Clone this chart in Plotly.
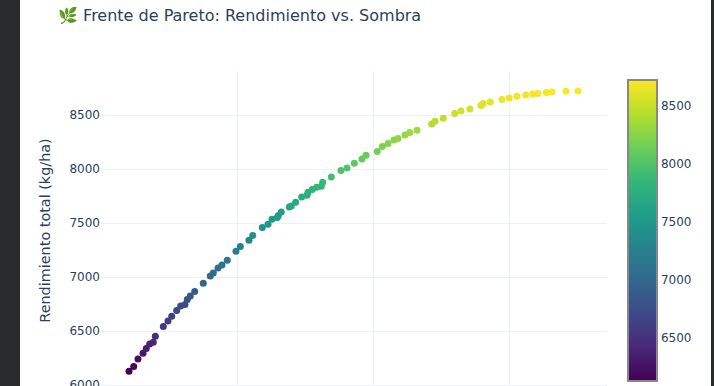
import plotly.graph_objects as go

sombra = [4.12, 4.81, 5.44, 6.18, 6.66, 7.16, 7.69, 7.99, 9.16, 9.85, 10.40, 11.13, 11.72, 12.35, 12.69, 13.13, 13.78,
          15.04, 16.07, 16.51, 17.21, 17.79, 18.57, 19.85, 20.49, 21.76, 22.31, 23.72, 24.56, 25.15, 25.93, 26.07,
          26.51, 27.69, 27.99, 28.63, 29.51, 30.29, 30.44, 31.07, 31.72, 32.40, 32.60, 33.87, 35.29, 36.18, 37.25,
          38.38, 38.97, 40.63, 41.37, 42.21, 43.09, 43.68, 44.71, 45.40, 46.47, 48.63, 49.12, 50.34, 52.01, 52.94,
          54.26, 55.88, 56.22, 57.25, 58.97, 60.04, 61.18, 62.46, 63.49, 64.26, 65.49, 66.32, 68.38, 70.15]
rendimiento = [6130, 6173, 6244, 6296, 6340, 6382, 6398, 6454, 6544, 6595, 6639, 6692, 6734, 6747, 6794, 6827, 6868,
               6945, 7012, 7040, 7086, 7114, 7158, 7241, 7284, 7343, 7386, 7460, 7491, 7537, 7553, 7571,
               7605, 7651, 7660, 7695, 7744, 7759, 7787, 7812, 7833, 7843, 7880, 7929, 7988, 8012, 8056,
               8096, 8130, 8164, 8210, 8238, 8272, 8284, 8318, 8340, 8361, 8420, 8445, 8472, 8516, 8540,
               8559, 8590, 8609, 8623, 8646, 8660, 8676, 8688, 8697, 8701, 8710, 8716, 8722, 8725]

FONT = "DejaVu Sans, Verdana, sans-serif"
W, H = 714, 390
L, R, T, B = 101, 107, 71, 0
PW = W - L - R
PH = H - T - B
DARK = "#292a2d"

fig = go.Figure(go.Scatter(
    x=sombra, y=rendimiento, mode="markers",
    marker=dict(
        size=7, color=rendimiento, colorscale="Viridis",
        colorbar=dict(
            thickness=29, lenmode="pixels", len=301, ypad=0, xpad=0,
            x=(628 - L) / PW, xanchor="left", y=(H - B - 381) / PH, yanchor="bottom",
            outlinecolor="#888888", outlinewidth=2, tickfont=dict(size=12),
            tick0=6500, dtick=500, ticks="",
        ),
    ),
))
fig.update_layout(
    template="plotly_white", width=W, height=H, showlegend=False,
    margin=dict(l=L, r=R, t=T, b=B, autoexpand=False),
    font=dict(family=FONT, color="#2a3f5f", size=12),
    title=dict(text="🌿 Frente de Pareto: Rendimiento vs. Sombra", x=58 / W, xanchor="left",
               y=1 - 15 / H, yanchor="middle", font=dict(size=16, family=FONT)),
    xaxis=dict(range=[0, PW / 6.8], tick0=0, dtick=20, showticklabels=False, zeroline=False,
               showgrid=True, gridcolor="#EBF0F8", ticks=""),
    yaxis=dict(title=dict(text="Rendimiento total (kg/ha)", font=dict(size=14.4), standoff=15),
               range=[5956, 5956 + PH * 9.26], tick0=6000, dtick=500, zeroline=False,
               gridcolor="#EBF0F8", ticks="", automargin=False, ticklabeloverflow="allow"),
    shapes=[
        dict(type="rect", xref="paper", yref="paper", x0=-L / PW, x1=(20 - L) / PW, y0=-1, y1=2,
             fillcolor=DARK, line_width=0, layer="below"),
        dict(type="rect", xref="paper", yref="paper", x0=(711 - L) / PW, x1=(W - L) / PW, y0=-1, y1=2,
             fillcolor=DARK, line_width=0, layer="below"),
    ],
)
fig.write_html("out.html", config=dict(displayModeBar=False),
               post_script="document.body.style.margin='0';document.body.style.overflow='hidden';"
                           "document.documentElement.style.overflow='hidden';")
